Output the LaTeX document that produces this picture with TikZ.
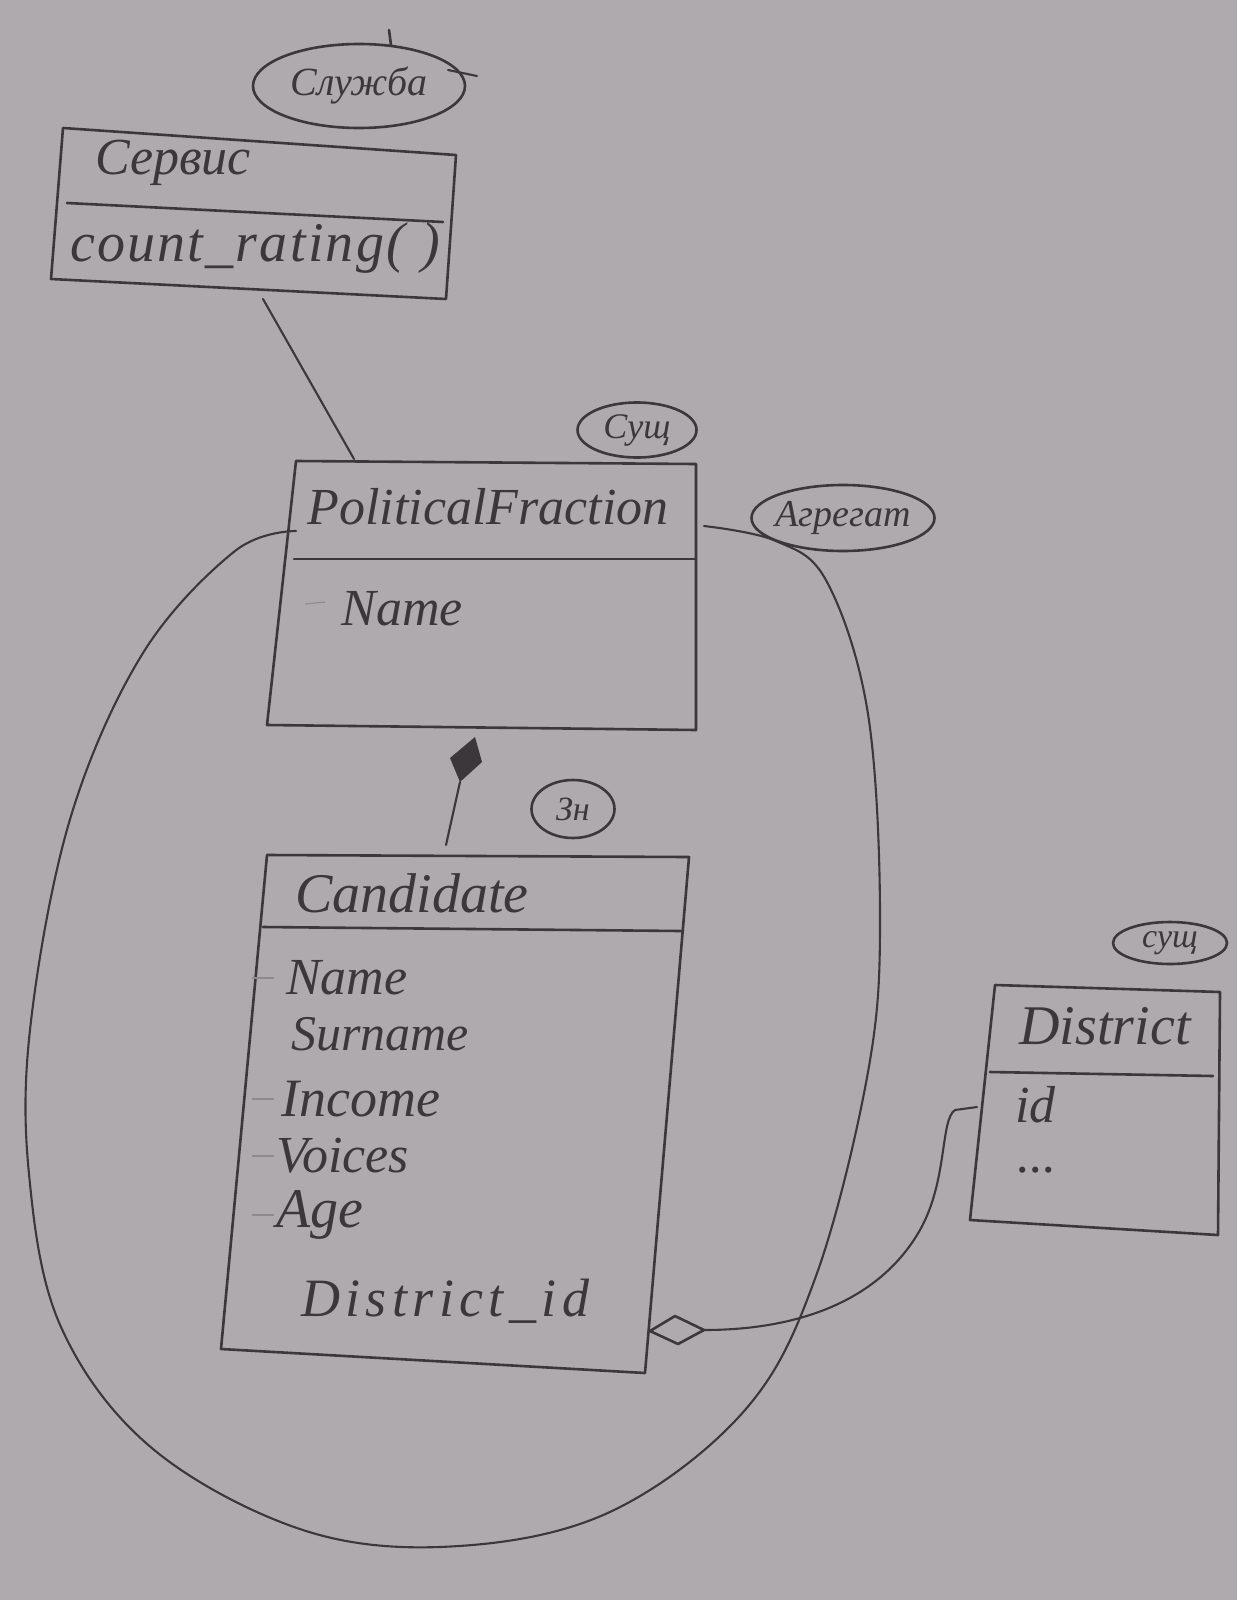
\documentclass[tikz,border=0pt]{standalone}
\usepackage{fontspec}
\setmainfont{Liberation Serif}
\usetikzlibrary{calc,shapes.geometric}
\definecolor{paper}{HTML}{AEAAAD}
\definecolor{pencil}{HTML}{3B373A}
\definecolor{faint}{HTML}{8E8A8D}
\tikzset{
  pen/.style={draw=pencil, line width=2.6pt, line join=round, line cap=round},
  thin pen/.style={draw=pencil, line width=2.1pt, line cap=round},
  hand/.style={text=pencil, font=\itshape\fontsize{#1}{#1}\selectfont, inner sep=0pt},
  hand/.default=40,
  tag/.style={pen, ellipse, draw, minimum width=#1, inner sep=0pt},
}
\begin{document}
\begin{tikzpicture}[x=1pt,y=-1pt]
\useasboundingbox (0,0) rectangle (1237,1600);
\fill[paper] (0,0) rectangle (1237,1600);

% ---------- Service box ----------
\coordinate (s1) at (63,128); \coordinate (s2) at (456,155);
\coordinate (s3) at (446,299); \coordinate (s4) at (51,279);
\draw[pen] (s1) -- (s2) -- (s3) -- (s4) -- cycle;
\draw[pen] (67,203) -- (443,222);
\node[hand=52] (srvname) at (173,163) {Сервис};
\node[hand=56] (srvop) at (255,248) {\addfontfeature{LetterSpace=4}count\_rating( )};
\node[tag=212pt, minimum height=84pt] (srvtag) at (359,86) {};
\node[hand=40] at (srvtag) {Служба};
\draw[pen] (389,30) -- (391,45);
\draw[thin pen] (448,70) -- (477,76);

% ---------- PoliticalFraction box ----------
\coordinate (p1) at (296,461); \coordinate (p2) at (696,464);
\coordinate (p3) at (696,730); \coordinate (p4) at (267,725);
\draw[pen] (p1) -- (p2) -- (p3) -- (p4) -- cycle;
\draw[pen] (294,559) -- (696,559);
\node[hand=52] (pfname) at (488,507) {PoliticalFraction};
\node[hand=52] (pfattr) at (402,609) {Name};
\draw[faint, line width=1.2pt] (305,604) -- (325,602);
\node[tag=119pt, minimum height=55pt] (pftag) at (637,430) {};
\node[hand=36] at (pftag) {Сущ};
\node[tag=183pt, minimum height=66pt] (aggtag) at (843,518) {};
\node[hand=38] at (aggtag) {Агрегат};

% ---------- Candidate box ----------
\coordinate (c1) at (267,855); \coordinate (c2) at (689,857);
\coordinate (c3) at (645,1373); \coordinate (c4) at (221,1349);
\draw[pen] (c1) -- (c2) -- (c3) -- (c4) -- cycle;
\draw[pen] (263,927) -- (681,931);
\node[hand=56] (cname) at (412,893) {Candidate};
\node[hand=52, anchor=west] (ca1) at (286,978) {Name};
\node[hand=50, anchor=west] (ca2) at (291,1034) {Surname};
\node[hand=54, anchor=west] (ca3) at (281,1099) {Income};
\node[hand=52, anchor=west] (ca4) at (276,1156) {Voices};
\node[hand=56, anchor=west] (ca5) at (276,1215) {Age};
\node[hand=54, anchor=west] (ca6) at (301,1301) {\addfontfeature{LetterSpace=10}District\_id};
\foreach \yy in {978,1099,1156,1215} \draw[faint, line width=1.2pt] (252,\yy) -- (274,\yy);
\node[tag=83pt, minimum height=58pt] (ctag) at (573,809) {};
\node[hand=34] at (ctag) {Зн};

% ---------- District box ----------
\coordinate (d1) at (995,985); \coordinate (d2) at (1220,992);
\coordinate (d3) at (1218,1235); \coordinate (d4) at (970,1220);
\draw[pen] (d1) -- (d2) -- (d3) -- (d4) -- cycle;
\draw[pen] (990,1072) -- (1213,1076);
\node[hand=56] (dname) at (1105,1026) {District};
\node[hand=52, anchor=west] (did) at (1015,1105) {id};
\node[hand=52, anchor=base west] (ddots) at (1017,1172) {...};
\node[tag=114pt, minimum height=42pt] (dtag) at (1170,943) {};
\node[hand=34] at (dtag) {сущ};

% ---------- connectors ----------
% service uses the fraction
\coordinate (srvfoot) at (263,299);
\coordinate (pfhead) at (354,459);
\draw[thin pen] (srvfoot) -- (pfhead);

% composition: candidate belongs to the fraction
\coordinate (compTop) at (475,737);
\coordinate (compBot) at (460,782);
\coordinate (candTop) at (446,845);
\fill[pencil] (compTop) -- (482,762) -- (compBot) -- (450,758) -- cycle;
\draw[thin pen] (compBot) -- (candTop);

% aggregation: candidate refers to a district
\coordinate (aggL) at (650,1331);
\coordinate (aggR) at (704,1330);
\coordinate (distL) at (977,1107);
\draw[pen, fill=paper] (aggL) -- (675,1316) -- (aggR) -- (678,1344) -- cycle;
\draw[thin pen] (aggR) .. controls (800,1330) and (880,1300) .. (920,1230)
  .. controls (948,1180) and (940,1120) .. (955,1110) -- (distL);

% aggregate boundary
\draw[thin pen] plot[smooth, tension=0.6] coordinates {
  (296,531) (235,551) (143,653) (71,816) (31,1021) (29,1174) (61,1327)
  (153,1449) (306,1531) (459,1546) (612,1511) (745,1410) (816,1276)
  (868,1072) (880,918) (868,714) (827,582) (776,541) (704,526)};
\end{tikzpicture}
\end{document}
